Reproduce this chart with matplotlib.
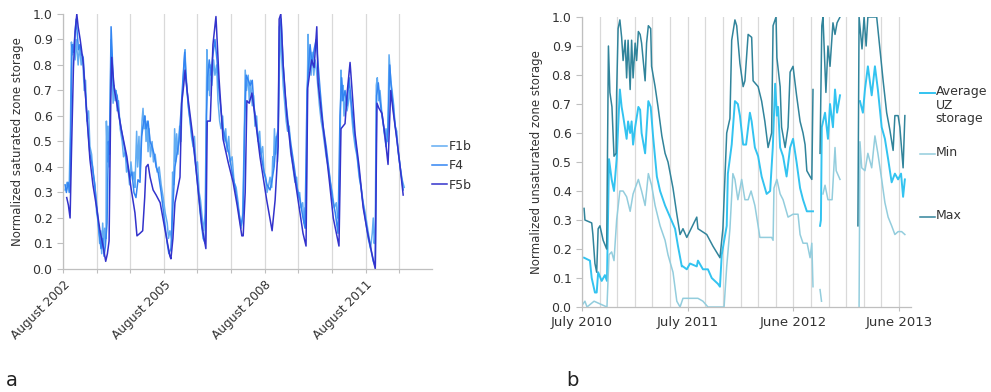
import numpy as np
import matplotlib
matplotlib.use('Agg')
import matplotlib.pyplot as plt
from matplotlib.lines import Line2D

plt.rcParams['font.family'] = 'DejaVu Sans'

# ---- panel a: saturated zone storage, x = years after August 2002 ----
t_f1b = [0.06, 0.12, 0.18, 0.22, 0.25, 0.28, 0.31, 0.36, 0.39, 0.42, 0.45, 0.49, 0.54, 0.58, 0.63,
         0.67, 0.71, 0.76, 0.80, 0.85, 0.89, 0.95, 1.00, 1.04, 1.09, 1.12, 1.15, 1.18, 1.21, 1.24,
         1.28, 1.29, 1.32, 1.34, 1.37, 1.40, 1.43, 1.46, 1.49, 1.52, 1.55, 1.58, 1.61, 1.65, 1.70,
         1.76, 1.80, 1.85, 1.89, 1.93, 1.98, 2.02, 2.07, 2.11, 2.14, 2.19, 2.22, 2.26, 2.29, 2.32,
         2.35, 2.38, 2.41, 2.44, 2.47, 2.50, 2.53, 2.56, 2.60, 2.65, 2.69, 2.74, 2.80, 2.86, 2.92,
         2.98, 3.04, 3.10, 3.14, 3.18, 3.23, 3.26, 3.29, 3.32, 3.35, 3.38, 3.42, 3.47, 3.51, 3.54,
         3.57, 3.60, 3.63, 3.66, 3.69, 3.74, 3.78, 3.82, 3.87, 3.91, 3.96, 4.00, 4.05, 4.09, 4.14,
         4.18, 4.23, 4.26, 4.28, 4.30, 4.33, 4.36, 4.39, 4.43, 4.48, 4.52, 4.57, 4.61, 4.66, 4.70,
         4.75, 4.79, 4.84, 4.88, 4.93, 4.97, 5.03, 5.09, 5.15, 5.21, 5.25, 5.30, 5.34, 5.39, 5.42,
         5.46, 5.51, 5.54, 5.58, 5.63, 5.67, 5.71, 5.76, 5.80, 5.85, 5.89, 5.94, 5.98, 6.03, 6.07,
         6.12, 6.16, 6.21, 6.24, 6.26, 6.29, 6.32, 6.35, 6.38, 6.41, 6.44, 6.47, 6.50, 6.55, 6.59,
         6.64, 6.68, 6.73, 6.77, 6.82, 6.86, 6.90, 6.95, 6.99, 7.04, 7.08, 7.13, 7.17, 7.20, 7.23,
         7.26, 7.29, 7.32, 7.35, 7.38, 7.41, 7.46, 7.50, 7.54, 7.59, 7.63, 7.68, 7.72, 7.77, 7.83,
         7.89, 7.95, 8.01, 8.07, 8.13, 8.17, 8.21, 8.24, 8.27, 8.30, 8.33, 8.36, 8.41, 8.45, 8.50,
         8.54, 8.59, 8.63, 8.69, 8.75, 8.81, 8.87, 8.93, 8.99, 9.05, 9.11, 9.15, 9.20, 9.23, 9.26,
         9.29, 9.32, 9.35, 9.39, 9.43, 9.48, 9.52, 9.57, 9.61, 9.66, 9.70, 9.75, 9.79, 9.84, 9.88,
         9.93, 9.97, 10.03, 10.09, 10.15]
v_f1b = [0.31, 0.34, 0.30, 0.55, 0.89, 0.84, 0.88, 0.82, 0.90, 0.85, 0.80, 0.88, 0.80, 0.84, 0.70,
         0.74, 0.58, 0.62, 0.48, 0.45, 0.38, 0.33, 0.22, 0.19, 0.10, 0.15, 0.06, 0.18, 0.08, 0.16,
         0.12, 0.58, 0.42, 0.56, 0.40, 0.55, 0.90, 0.78, 0.65, 0.72, 0.66, 0.70, 0.62, 0.66, 0.55,
         0.50, 0.44, 0.46, 0.38, 0.40, 0.33, 0.42, 0.35, 0.38, 0.32, 0.54, 0.40, 0.52, 0.36, 0.48,
         0.58, 0.63, 0.55, 0.60, 0.50, 0.58, 0.46, 0.55, 0.44, 0.50, 0.42, 0.45, 0.38, 0.40, 0.33,
         0.28, 0.22, 0.18, 0.12, 0.15, 0.12, 0.38, 0.33, 0.55, 0.42, 0.53, 0.45, 0.56, 0.50, 0.66,
         0.72, 0.80, 0.86, 0.74, 0.70, 0.62, 0.58, 0.52, 0.48, 0.52, 0.40, 0.42, 0.30, 0.27, 0.20,
         0.15, 0.22, 0.60, 0.86, 0.70, 0.78, 0.68, 0.80, 0.72, 0.82, 0.76, 0.80, 0.66, 0.58, 0.55,
         0.60, 0.50, 0.55, 0.46, 0.52, 0.42, 0.44, 0.34, 0.32, 0.26, 0.20, 0.16, 0.20, 0.50, 0.78,
         0.70, 0.76, 0.66, 0.74, 0.64, 0.68, 0.56, 0.60, 0.50, 0.54, 0.45, 0.48, 0.38, 0.36, 0.30,
         0.33, 0.36, 0.32, 0.44, 0.40, 0.55, 0.45, 0.52, 0.42, 0.58, 0.80, 0.96, 0.84, 0.72, 0.66,
         0.58, 0.54, 0.56, 0.46, 0.42, 0.38, 0.34, 0.36, 0.28, 0.30, 0.24, 0.26, 0.18, 0.24, 0.16,
         0.60, 0.92, 0.78, 0.84, 0.76, 0.85, 0.76, 0.82, 0.78, 0.70, 0.64, 0.58, 0.55, 0.50, 0.44,
         0.40, 0.34, 0.30, 0.24, 0.26, 0.20, 0.22, 0.45, 0.78, 0.66, 0.72, 0.60, 0.68, 0.62, 0.66,
         0.70, 0.60, 0.54, 0.48, 0.44, 0.36, 0.32, 0.26, 0.22, 0.17, 0.12, 0.08, 0.14, 0.20, 0.10,
         0.15, 0.72, 0.75, 0.66, 0.70, 0.62, 0.58, 0.52, 0.55, 0.50, 0.84, 0.74, 0.70, 0.64, 0.56,
         0.54, 0.46, 0.40, 0.35, 0.32]

t_f4 = [0.06, 0.10, 0.15, 0.21, 0.24, 0.27, 0.31, 0.34, 0.39, 0.42, 0.46, 0.51, 0.55, 0.60, 0.65,
        0.71, 0.80, 0.88, 0.95, 1.01, 1.07, 1.13, 1.18, 1.22, 1.26, 1.31, 1.35, 1.38, 1.43, 1.46,
        1.50, 1.55, 1.61, 1.67, 1.73, 1.82, 1.90, 1.99, 2.05, 2.11, 2.17, 2.23, 2.29, 2.34, 2.38,
        2.43, 2.47, 2.53, 2.59, 2.65, 2.71, 2.77, 2.83, 2.92, 3.01, 3.10, 3.15, 3.21, 3.27, 3.33,
        3.39, 3.45, 3.51, 3.57, 3.62, 3.66, 3.72, 3.81, 3.90, 3.99, 4.08, 4.17, 4.23, 4.27, 4.30,
        4.35, 4.40, 4.46, 4.52, 4.58, 4.64, 4.70, 4.76, 4.85, 4.94, 5.03, 5.12, 5.21, 5.30, 5.36,
        5.40, 5.45, 5.51, 5.57, 5.63, 5.68, 5.74, 5.80, 5.89, 5.98, 6.07, 6.16, 6.22, 6.28, 6.34,
        6.40, 6.44, 6.49, 6.55, 6.61, 6.70, 6.79, 6.88, 6.96, 7.05, 7.14, 7.20, 7.26, 7.31, 7.35,
        7.41, 7.47, 7.53, 7.59, 7.65, 7.74, 7.83, 7.92, 8.01, 8.10, 8.18, 8.24, 8.29, 8.33, 8.39,
        8.45, 8.51, 8.57, 8.63, 8.72, 8.81, 8.90, 8.99, 9.08, 9.17, 9.23, 9.29, 9.33, 9.38, 9.43,
        9.49, 9.55, 9.61, 9.67, 9.72, 9.76, 9.85, 9.94, 10.03, 10.12]
v_f4 = [0.33, 0.30, 0.34, 0.30, 0.65, 0.88, 0.85, 0.90, 0.98, 0.93, 0.86, 0.88, 0.84, 0.83, 0.72,
        0.60, 0.45, 0.40, 0.32, 0.24, 0.15, 0.08, 0.12, 0.05, 0.09, 0.18, 0.50, 0.45, 0.95, 0.85,
        0.72, 0.70, 0.68, 0.60, 0.55, 0.48, 0.42, 0.36, 0.38, 0.30, 0.28, 0.35, 0.34, 0.52, 0.56,
        0.60, 0.55, 0.58, 0.50, 0.48, 0.45, 0.40, 0.38, 0.30, 0.20, 0.10, 0.06, 0.08, 0.25, 0.40,
        0.45, 0.50, 0.62, 0.75, 0.85, 0.76, 0.65, 0.55, 0.46, 0.35, 0.22, 0.12, 0.10, 0.60, 0.75,
        0.82, 0.76, 0.84, 0.90, 0.82, 0.70, 0.62, 0.55, 0.50, 0.45, 0.38, 0.32, 0.24, 0.17, 0.22,
        0.55, 0.76, 0.74, 0.72, 0.74, 0.64, 0.58, 0.52, 0.45, 0.38, 0.33, 0.31, 0.35, 0.40, 0.50,
        0.55, 0.95, 0.98, 0.80, 0.68, 0.57, 0.48, 0.40, 0.32, 0.27, 0.20, 0.16, 0.70, 0.80, 0.88,
        0.80, 0.86, 0.90, 0.80, 0.70, 0.56, 0.48, 0.38, 0.28, 0.22, 0.14, 0.60, 0.75, 0.66, 0.70,
        0.64, 0.75, 0.66, 0.58, 0.48, 0.38, 0.28, 0.20, 0.12, 0.07, 0.03, 0.01, 0.68, 0.73, 0.66,
        0.60, 0.55, 0.48, 0.55, 0.80, 0.72, 0.60, 0.50, 0.40, 0.31]

t_f5b = [0.11, 0.16, 0.21, 0.25, 0.31, 0.36, 0.41, 0.45, 0.51, 0.60, 0.70, 0.80, 0.89, 1.00, 1.10,
         1.19, 1.27, 1.32, 1.37, 1.42, 1.45, 1.49, 1.53, 1.60, 1.73, 1.90, 2.02, 2.14, 2.20, 2.29,
         2.37, 2.43, 2.47, 2.53, 2.59, 2.68, 2.77, 2.89, 3.04, 3.18, 3.21, 3.27, 3.33, 3.48, 3.53,
         3.59, 3.63, 3.69, 3.87, 3.99, 4.13, 4.25, 4.29, 4.38, 4.46, 4.55, 4.64, 4.76, 4.91, 5.06,
         5.18, 5.32, 5.36, 5.42, 5.47, 5.54, 5.62, 5.71, 5.86, 6.06, 6.22, 6.31, 6.40, 6.43, 6.48,
         6.55, 6.66, 6.79, 6.96, 7.14, 7.23, 7.28, 7.35, 7.40, 7.47, 7.55, 7.59, 7.68, 7.80, 7.92,
         8.04, 8.21, 8.27, 8.33, 8.39, 8.46, 8.54, 8.60, 8.69, 8.81, 8.93, 9.05, 9.19, 9.29, 9.34,
         9.40, 9.49, 9.58, 9.67, 9.75, 9.82, 9.93, 10.03, 10.12]
v_f5b = [0.28, 0.25, 0.20, 0.45, 0.79, 0.93, 1.00, 0.95, 0.90, 0.81, 0.62, 0.43, 0.33, 0.24, 0.15,
         0.09, 0.03, 0.06, 0.11, 0.66, 0.83, 0.76, 0.70, 0.65, 0.55, 0.44, 0.32, 0.22, 0.13, 0.14,
         0.15, 0.28, 0.40, 0.41, 0.36, 0.31, 0.29, 0.26, 0.15, 0.05, 0.04, 0.12, 0.26, 0.36, 0.65,
         0.72, 0.78, 0.70, 0.51, 0.35, 0.17, 0.08, 0.58, 0.58, 0.88, 0.99, 0.75, 0.51, 0.42, 0.34,
         0.25, 0.13, 0.13, 0.30, 0.66, 0.65, 0.69, 0.60, 0.44, 0.27, 0.15, 0.27, 0.48, 0.98, 1.00,
         0.80, 0.60, 0.45, 0.30, 0.14, 0.09, 0.71, 0.78, 0.82, 0.79, 0.95, 0.73, 0.62, 0.49, 0.35,
         0.20, 0.09, 0.55, 0.56, 0.57, 0.70, 0.81, 0.70, 0.53, 0.40, 0.24, 0.15, 0.06, 0.00, 0.65,
         0.63, 0.61, 0.52, 0.41, 0.70, 0.62, 0.51, 0.40, 0.29]

year_ticks_a = [0, 3, 6, 9]
year_labels_a = ['August 2002', 'August 2005', 'August 2008', 'August 2011']

# ---- panel b: unsaturated zone storage, x = days after early July 2010 ----
nan = np.nan
d_avg = [7, 27, 33, 44, 50, 55, 67, 78, 85, 92, 101, 109, 118, 129, 135, 140, 152, 157, 164, 169,
         174, 181, 192, 198, 203, 215, 226, 234, 242, 255, 266, 283, 300, 317, 327, 340, 344, 357,
         368, 391, 395, 412, 429, 442, 463, 470, 476, 493, 497, 510, 521, 531, 538, 549, 559, 572,
         578, 589, 600, 612, 629, 641, 650, 658, 664, 668, 675, 685, 697, 709, 719, 731, 743, 753,
         766, 783, 787, 790, 811, 814, 817, 828, 838, 845, 855, 862, 869, 879, 890, 947, 957, 964,
         974, 987, 998, 1008, 1021, 1032, 1043, 1055, 1066, 1077, 1087, 1094, 1100]
v_avg = [0.17, 0.16, 0.10, 0.05, 0.05, 0.12, 0.09, 0.11, 0.09, 0.51, 0.44, 0.40, 0.51, 0.75, 0.69,
         0.66, 0.58, 0.64, 0.60, 0.64, 0.56, 0.62, 0.69, 0.68, 0.60, 0.53, 0.71, 0.69, 0.59, 0.45,
         0.40, 0.35, 0.31, 0.27, 0.21, 0.14, 0.14, 0.13, 0.15, 0.14, 0.16, 0.13, 0.13, 0.10, 0.08,
         0.07, 0.18, 0.28, 0.46, 0.56, 0.71, 0.70, 0.66, 0.56, 0.56, 0.67, 0.64, 0.55, 0.52, 0.45,
         0.39, 0.40, 0.55, 0.77, 0.66, 0.69, 0.55, 0.52, 0.45, 0.55, 0.58, 0.50, 0.41, 0.37, 0.33,
         0.33, 0.33, nan, 0.28, 0.30, 0.62, 0.67, 0.58, 0.70, 0.62, 0.75, 0.67, 0.73, nan, 0.71,
         0.67, 0.75, 0.83, 0.73, 0.83, 0.75, 0.62, 0.58, 0.51, 0.43, 0.46, 0.44, 0.46, 0.38, 0.44]

d_min = [3, 10, 17, 41, 85, 92, 101, 109, 118, 129, 140, 152, 164, 174, 192, 203, 215, 226, 237,
         249, 266, 283, 293, 310, 323, 334, 344, 385, 395, 412, 429, 484, 493, 504, 514, 521, 531,
         544, 555, 566, 576, 589, 600, 606, 646, 651, 654, 664, 675, 685, 702, 719, 736, 743, 753,
         767, 777, 783, 787, 790, 811, 816, 818, 821, 828, 838, 852, 862, 866, 879, 890, 944, 947,
         953, 964, 974, 987, 998, 1008, 1021, 1032, 1043, 1055, 1066, 1077, 1089, 1100]
v_min = [0.01, 0.02, 0.0, 0.02, 0.0, 0.18, 0.19, 0.16, 0.30, 0.40, 0.40, 0.38, 0.33, 0.39, 0.44,
         0.40, 0.35, 0.46, 0.42, 0.35, 0.28, 0.23, 0.18, 0.12, 0.02, 0.0, 0.03, 0.03, 0.03, 0.02,
         0.0, 0.0, 0.14, 0.27, 0.46, 0.44, 0.37, 0.44, 0.37, 0.37, 0.40, 0.35, 0.28, 0.24, 0.24,
         0.23, 0.41, 0.44, 0.39, 0.37, 0.31, 0.32, 0.32, 0.25, 0.22, 0.22, 0.17, 0.22, 0.07, nan,
         0.06, 0.02, nan, 0.39, 0.42, 0.37, 0.37, 0.55, 0.47, 0.44, nan, 0.0, 0.57, 0.48, 0.47,
         0.53, 0.48, 0.59, 0.53, 0.44, 0.36, 0.31, 0.28, 0.25, 0.26, 0.26, 0.25]

d_max = [7, 10, 33, 37, 44, 50, 55, 61, 72, 84, 90, 95, 102, 109, 116, 118, 123, 129, 135, 140,
         147, 152, 157, 164, 169, 174, 181, 186, 192, 198, 203, 215, 220, 226, 234, 237, 249, 259,
         272, 283, 293, 310, 323, 334, 344, 357, 391, 395, 425, 446, 470, 480, 493, 504, 510, 521,
         527, 538, 549, 555, 566, 578, 583, 600, 612, 623, 634, 646, 651, 661, 664, 675, 680, 692,
         702, 709, 719, 731, 743, 753, 760, 766, 777, 783, 787, 790, 811, 817, 821, 831, 838, 845,
         855, 862, 869, 879, 890, 940, 944, 954, 961, 968, 974, 991, 1004, 1015, 1026, 1038, 1049,
         1060, 1066, 1077, 1083, 1094, 1100]
v_max = [0.34, 0.30, 0.29, 0.25, 0.15, 0.12, 0.27, 0.28, 0.23, 0.20, 0.90, 0.74, 0.69, 0.52, 0.53,
         0.74, 0.96, 0.99, 0.93, 0.85, 0.92, 0.79, 0.92, 0.75, 0.92, 0.79, 0.91, 0.85, 0.95, 0.94,
         0.91, 0.78, 0.91, 0.97, 0.96, 0.83, 0.76, 0.69, 0.59, 0.53, 0.50, 0.41, 0.32, 0.25, 0.27,
         0.24, 0.31, 0.27, 0.25, 0.21, 0.17, 0.27, 0.60, 0.65, 0.92, 0.99, 0.97, 0.84, 0.76, 0.78,
         0.94, 0.93, 0.78, 0.76, 0.71, 0.64, 0.55, 0.60, 0.97, 1.00, 0.86, 0.76, 0.62, 0.55, 0.62,
         0.81, 0.83, 0.73, 0.64, 0.60, 0.56, 0.47, 0.45, 0.44, 0.75, nan, 0.53, 0.97, 1.00, 0.74,
         0.90, 0.83, 0.98, 0.94, 0.98, 1.00, nan, 0.28, 1.00, 0.89, 1.00, 0.90, 1.00, 1.00, 1.00,
         0.89, 0.78, 0.67, 0.61, 0.54, 0.66, 0.66, 0.62, 0.48, 0.66]

day_ticks_b = [0, 360, 720, 1080]
day_labels_b = ['July 2010', 'July 2011', 'June 2012', 'June 2013']

# colours
c_f1b, c_f4, c_f5b = '#62acf2', '#3385f2', '#3333cc'
c_avg, c_min, c_max = '#33c3f0', '#93cddd', '#31849b'
grid_c = '#d9d9d9'
axis_c = '#bfbfbf'
txt_c = '#333333'

fig = plt.figure(figsize=(9.91, 3.92), dpi=100)


def style_axes(ax):
    ax.spines['top'].set_visible(False)
    ax.spines['right'].set_visible(False)
    for s in ['left', 'bottom']:
        ax.spines[s].set_color(axis_c)
        ax.spines[s].set_linewidth(0.9)
    ax.set_ylim(0, 1.0)
    ax.set_yticks(np.arange(0, 1.01, 0.1))
    ax.set_yticklabels([f'{v:.1f}' for v in np.arange(0, 1.01, 0.1)])
    ax.tick_params(axis='both', which='both', colors=axis_c, labelcolor=txt_c,
                   labelsize=9, length=4, width=0.8)
    ax.set_axisbelow(True)


# panel a
ax1 = fig.add_axes([0.0636, 0.3138, 0.3724, 0.6505])
ax1.plot(t_f1b, v_f1b, color=c_f1b, lw=1.1, label='F1b')
ax1.plot(t_f4, v_f4, color=c_f4, lw=1.1, label='F4')
ax1.plot(t_f5b, v_f5b, color=c_f5b, lw=1.1, label='F5b')
style_axes(ax1)
ax1.set_xlim(0, 10.98)
ax1.set_xticks(year_ticks_a)
ax1.set_xticklabels(year_labels_a, rotation=45, ha='right', rotation_mode='anchor', fontsize=8.7)
ax1.set_xticks(range(0, 11), minor=True)
ax1.tick_params(axis='x', which='both', length=3)
ax1.grid(axis='x', which='both', color=grid_c, lw=0.9)
ax1.set_ylabel('Normalized saturated zone storage', fontsize=8.5, color=txt_c, labelpad=6)
ax1.legend(loc='upper left', bbox_to_anchor=(1.0, 0.505), frameon=False, fontsize=9,
           handlelength=1.2, handletextpad=0.15, labelspacing=0.5, borderpad=0,
           borderaxespad=0, labelcolor=txt_c)

# panel b
ax2 = fig.add_axes([0.5873, 0.2168, 0.3320, 0.7398])
ax2.plot(d_avg, v_avg, color=c_avg, lw=1.4)
ax2.plot(d_min, v_min, color=c_min, lw=1.1)
ax2.plot(d_max, v_max, color=c_max, lw=1.1)
style_axes(ax2)
ax2.set_xlim(0, 1121)
ax2.set_xticks(day_ticks_b)
ax2.set_xticklabels(day_labels_b, fontsize=9.5)
ax2.set_xticks(range(0, 1081, 60), minor=True)
ax2.tick_params(axis='x', which='minor', length=0)
ax2.tick_params(axis='x', which='major', length=3)
ax2.grid(axis='x', which='both', color=grid_c, lw=0.9)
ax2.set_ylabel('Normalized unsaturated zone storage', fontsize=8.5, color=txt_c, labelpad=6)

# legend of panel b, entries placed like the original
for y, col, lab, lw in [(0.763, c_avg, 'Average\nUZ\nstorage', 1.4), (0.607, c_min, 'Min', 1.1),
                        (0.446, c_max, 'Max', 1.1)]:
    fig.add_artist(Line2D([0.928, 0.943], [y, y], color=col, lw=lw))
    fig.text(0.944, y + 0.02, lab, fontsize=9, color=txt_c, va='top', ha='left', linespacing=1.05)

fig.text(0.006, 0.015, 'a', fontsize=14, color='#222222')
fig.text(0.571, 0.015, 'b', fontsize=14, color='#222222')

fig.savefig('out.png', dpi=100)
